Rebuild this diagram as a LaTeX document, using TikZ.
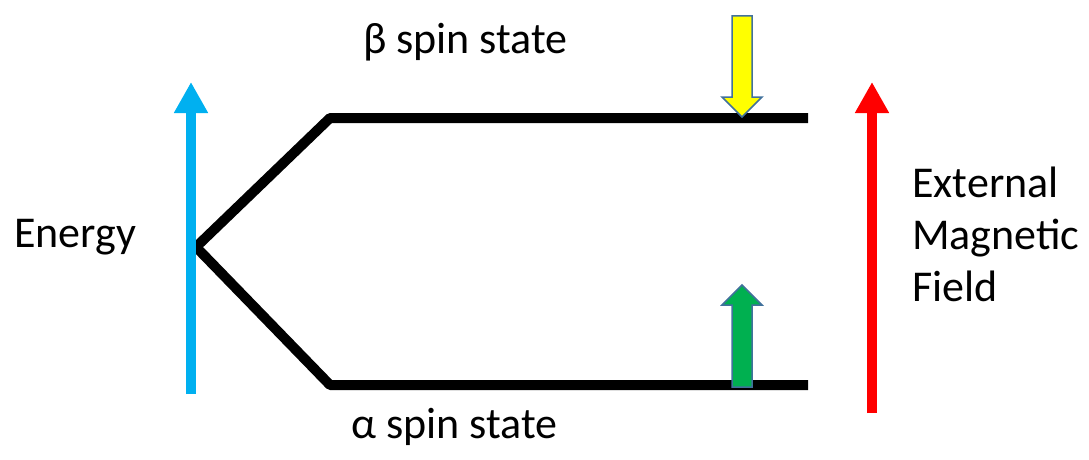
\documentclass[tikz,border=0pt]{standalone}
\usepackage{fontspec}
\setmainfont{Carlito}
\usetikzlibrary{arrows.meta}
\definecolor{skyblue}{HTML}{00B0F0}
\definecolor{outl}{HTML}{41719C}
\definecolor{grn}{HTML}{00B050}
\definecolor{ylw}{HTML}{FFFF00}
\tikzset{
  level/.style={line width=10pt, line join=round},
  bigarrow/.style={line width=10pt, -{Triangle[length=31pt,width=32pt]}},
  blockarrow/.style={draw=outl, line width=1.5pt, line join=miter},
  lbl/.style={font=\fontsize{44}{52}\selectfont, inner sep=0pt}
}
\begin{document}
\begin{tikzpicture}[x=1pt,y=-1pt]
\useasboundingbox (0,0) rectangle (1089,460);
% coordinates
\coordinate (apex) at (196,247);
\coordinate (bL) at (330,118);
\coordinate (bR) at (808,118);
\coordinate (aL) at (330,385);
\coordinate (aR) at (808,385);
\coordinate (eB) at (191,394);
\coordinate (eT) at (191,82);
\coordinate (mB) at (872,413);
\coordinate (mT) at (872,82);
% energy levels
\draw[level] (bR) -- (bL) -- (apex) -- (aL) -- (aR);
% arrows
\draw[bigarrow, skyblue] (eB) -- (eT);
\draw[bigarrow, red] (mB) -- (mT);
% yellow block arrow (down)
\draw[blockarrow, fill=ylw] (732,16) -- (752,16) -- (752,97) -- (762,97) -- (742,117) -- (722,97) -- (732,97) -- cycle;
% green block arrow (up)
\draw[blockarrow, fill=grn] (732,387) -- (752,387) -- (752,305) -- (762,305) -- (742,285) -- (722,305) -- (732,305) -- cycle;
% labels
\node[lbl, anchor=base west] (energy) at (14,247) {Energy};
\node[lbl, anchor=base west] (beta) at (363,53) {β spin state};
\node[lbl, anchor=base west] (alpha) at (351,438) {α spin state};
\node[lbl, anchor=base west] (ext) at (912,197) {External};
\node[lbl, anchor=base west] (mag) at (912,249) {Magnetic};
\node[lbl, anchor=base west] (fld) at (912,301) {Field};
\end{tikzpicture}
\end{document}
